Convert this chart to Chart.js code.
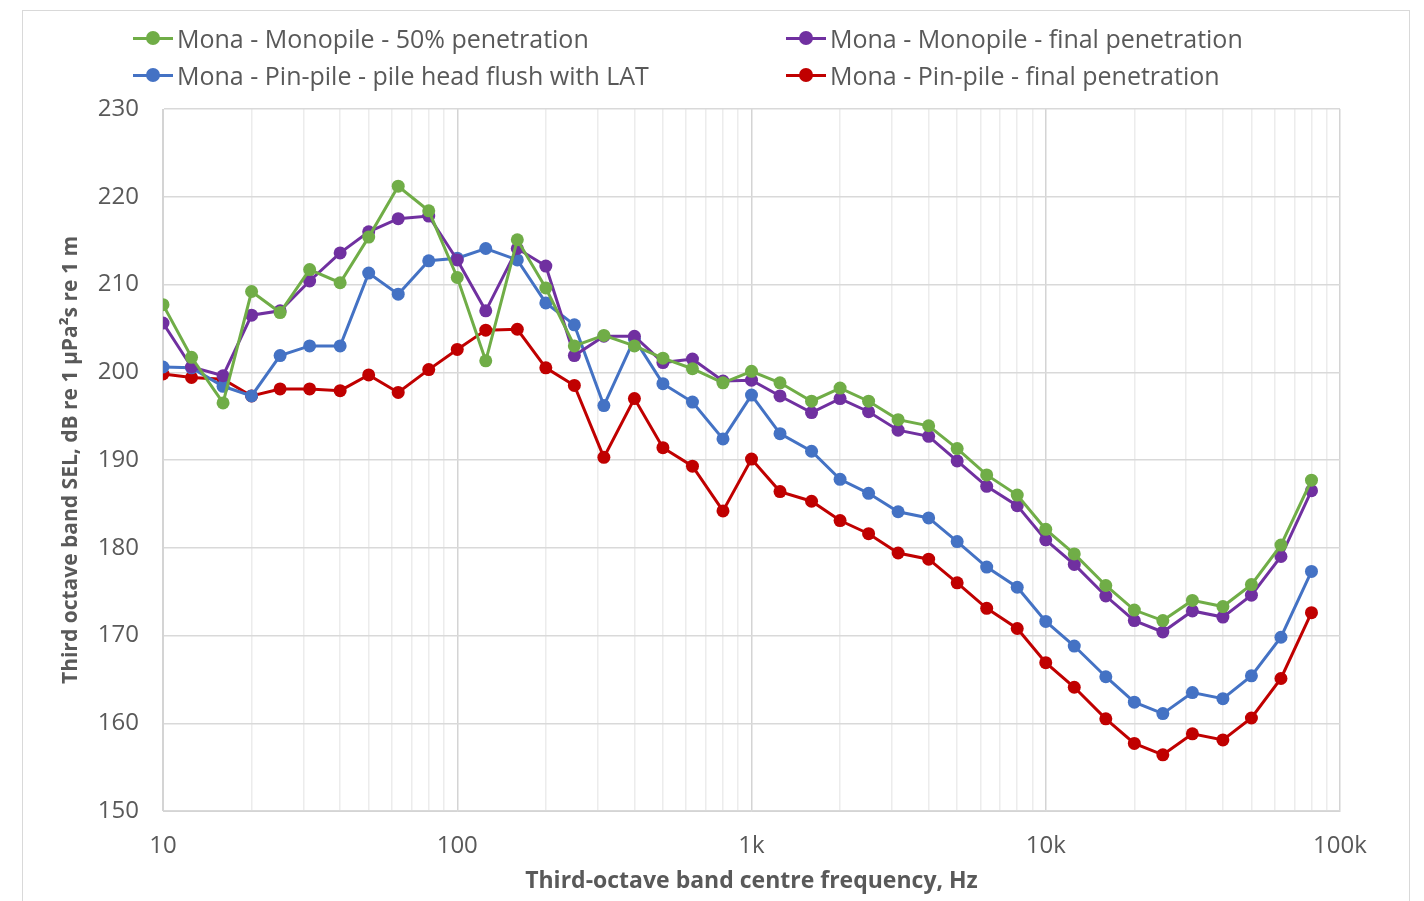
<!DOCTYPE html>
<html>
<head>
<meta charset="utf-8">
<script src="https://cdn.jsdelivr.net/npm/chart.js@4.4.1/dist/chart.umd.min.js"></script>
<style>
  html, body { margin: 0; padding: 0; background: #fff; }
  #wrap { position: relative; width: 1424px; height: 901px; overflow: hidden; }
  #frame { position: absolute; left: 22px; top: 10px; width: 1388px; height: 900px; border: 1px solid #d9d9d9; box-sizing: border-box; }
  #chart { position: absolute; left: 0; top: 0; }
  .leg { position: absolute; font-family: "Open Sans", sans-serif; font-size: 25px; color: #595959; white-space: nowrap; display: flex; align-items: center; height: 30px; }
  .leg .mark { position: relative; width: 40px; height: 3px; margin-right: 4px; }
  .leg .dot { position: absolute; left: 13px; top: -5.5px; width: 14px; height: 14px; border-radius: 50%; }
</style>
</head>
<body>
<div id="wrap">
  <div id="frame"></div>
  <canvas id="chart" width="1424" height="901"></canvas>
  <div id="legend"></div>
</div>
<script>
// third-octave band centre frequencies, Hz
const freqs = [10, 12.5, 16, 20, 25, 31.5, 40, 50, 63, 80,
    100, 125, 160, 200, 250, 315, 400, 500, 630, 800,
    1000, 1250, 1600, 2000, 2500, 3150, 4000, 5000, 6300, 8000,
    10000, 12500, 16000, 20000, 25000, 31500, 40000, 50000, 63000, 80000];

const monopile50 = [207.7, 201.7, 196.5, 209.2, 206.8, 211.7, 210.2, 215.4, 221.2, 218.4,
    210.8, 201.3, 215.1, 209.6, 203.0, 204.2, 203.0, 201.6, 200.4, 198.8,
    200.1, 198.8, 196.7, 198.2, 196.7, 194.6, 193.9, 191.3, 188.3, 186.0,
    182.1, 179.3, 175.7, 172.9, 171.7, 174.0, 173.3, 175.8, 180.3, 187.7];

const monopileFinal = [205.6, 200.6, 199.6, 206.5, 207.0, 210.4, 213.6, 216.0, 217.5, 217.8,
    212.8, 207.0, 214.1, 212.1, 201.9, 204.1, 204.1, 201.1, 201.5, 199.0,
    199.1, 197.3, 195.4, 197.0, 195.5, 193.4, 192.7, 189.9, 187.0, 184.8,
    180.9, 178.1, 174.5, 171.7, 170.4, 172.8, 172.1, 174.6, 179.0, 186.5];

const pinHeadLAT = [200.6, 200.5, 198.4, 197.3, 201.9, 203.0, 203.0, 211.3, 208.9, 212.7,
    213.0, 214.1, 212.8, 207.9, 205.4, 196.2, 203.8, 198.7, 196.6, 192.4,
    197.4, 193.0, 191.0, 187.8, 186.2, 184.1, 183.4, 180.7, 177.8, 175.5,
    171.6, 168.8, 165.3, 162.4, 161.1, 163.5, 162.8, 165.4, 169.8, 177.3];

const pinFinal = [199.8, 199.4, 199.2, 197.3, 198.1, 198.1, 197.9, 199.7, 197.7, 200.3,
    202.6, 204.8, 204.9, 200.5, 198.5, 190.3, 197.0, 191.4, 189.3, 184.2,
    190.1, 186.4, 185.3, 183.1, 181.6, 179.4, 178.7, 176.0, 173.1, 170.8,
    166.9, 164.1, 160.5, 157.7, 156.4, 158.8, 158.1, 160.6, 165.1, 172.6];

const seriesLabels = [
    'Mona - Monopile - 50% penetration',
    'Mona - Monopile - final penetration',
    'Mona - Pin-pile - pile head flush with LAT',
    'Mona - Pin-pile - final penetration'
];
const seriesColors = ['#70ad47', '#7030a0', '#4472c4', '#c00000'];
const seriesValues = [monopile50, monopileFinal, pinHeadLAT, pinFinal];

const xDecadeLabels = { 10: '10', 100: '100', 1000: '1k', 10000: '10k', 100000: '100k' };

const FONT = '"Open Sans", sans-serif';
const TEXT = '#595959';

function isDecade(v) {
    return Math.abs(Math.log10(v) - Math.round(Math.log10(v))) < 1e-9;
}

const datasets = seriesValues.map((vals, i) => ({
    label: seriesLabels[i],
    data: freqs.map((f, j) => ({ x: f, y: vals[j] })),
    borderColor: seriesColors[i],
    backgroundColor: seriesColors[i],
    pointBackgroundColor: seriesColors[i],
    pointBorderColor: seriesColors[i],
    pointRadius: 6.5,
    pointBorderWidth: 0,
    borderWidth: 3,
    tension: 0,
    order: i + 1
}));

new Chart(document.getElementById('chart').getContext('2d'), {
    type: 'line',
    data: { datasets: datasets },
    options: {
        responsive: false,
        animation: false,
        layout: { padding: { top: 109, right: 84, left: 0, bottom: 0 } },
        plugins: { legend: { display: false }, tooltip: { enabled: false } },
        scales: {
            x: {
                type: 'logarithmic',
                min: 10,
                max: 100000,
                afterBuildTicks: function(scale) {
                    const t = [];
                    for (let d = 10; d <= 10000; d *= 10) {
                        for (let m = 1; m <= 9; m++) t.push({ value: d * m });
                    }
                    t.push({ value: 100000 });
                    scale.ticks = t;
                },
                afterFit: function(scale) { scale.height = 90; },
                ticks: {
                    autoSkip: false,
                    maxRotation: 0,
                    padding: 21,
                    color: TEXT,
                    font: { family: FONT, size: 24 },
                    callback: function(v) { return xDecadeLabels[v] || ''; }
                },
                grid: {
                    drawTicks: false,
                    color: function(ctx) {
                        return ctx.tick && isDecade(ctx.tick.value) ? '#d4d4d4' : '#ececec';
                    },
                    lineWidth: 1.5
                },
                border: { color: '#d4d4d4' },
                title: {
                    display: true,
                    text: 'Third-octave band centre frequency, Hz',
                    color: TEXT,
                    font: { family: FONT, size: 23, weight: 'bold' },
                    padding: { top: 0, bottom: 6 }
                }
            },
            y: {
                min: 150,
                max: 230,
                afterFit: function(scale) { scale.width = 163; },
                ticks: {
                    stepSize: 10,
                    padding: 24,
                    color: TEXT,
                    font: { family: FONT, size: 24 }
                },
                grid: { drawTicks: false, color: '#d9d9d9', lineWidth: 1.5 },
                border: { color: '#d4d4d4' },
                title: {
                    display: true,
                    text: 'Third octave band SEL, dB re 1 µPa²s re 1 m',
                    color: TEXT,
                    font: { family: FONT, size: 21, weight: 'bold' },
                    padding: { top: 58, bottom: 0 }
                }
            }
        }
    }
});

// two-column legend as in the original
const legendPos = [[133, 23], [786, 23], [133, 60], [786, 60]];
const legendEl = document.getElementById('legend');
seriesLabels.forEach((label, s) => {
    const item = document.createElement('div');
    item.className = 'leg';
    item.style.left = legendPos[s][0] + 'px';
    item.style.top = legendPos[s][1] + 'px';
    item.innerHTML = '<span class="mark" style="background:' + seriesColors[s] + '">' +
        '<span class="dot" style="background:' + seriesColors[s] + '"></span></span>' +
        '<span>' + label + '</span>';
    legendEl.appendChild(item);
});
</script>
</body>
</html>
